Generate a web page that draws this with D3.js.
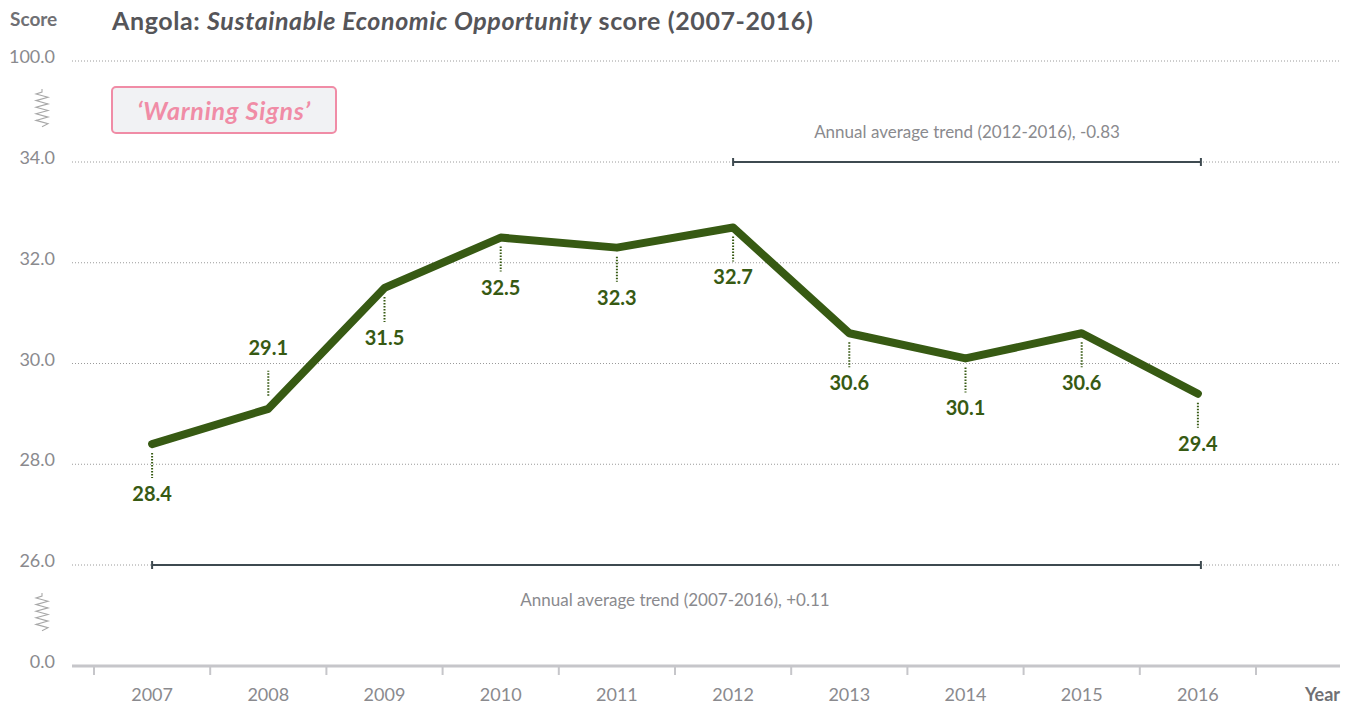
<!DOCTYPE html>
<html>
<head>
<meta charset="utf-8">
<script src="https://cdn.jsdelivr.net/npm/d3@7"></script>
<style>
  html, body { margin: 0; padding: 0; background: #fff; }
  svg { display: block; font-family: Lato, "Open Sans", sans-serif; }
</style>
</head>
<body>
<svg id="chart" width="1354" height="704"></svg>
<script>
// ---- data ----
const years = [2007, 2008, 2009, 2010, 2011, 2012, 2013, 2014, 2015, 2016];
const scores = [28.4, 29.1, 31.5, 32.5, 32.3, 32.7, 30.6, 30.1, 30.6, 29.4];
const labelAbove = [false, true, false, false, false, false, false, false, false, false];
const gridValues = [100, 34, 32, 30, 28, 26];
const tickLabels = ["100.0", "34.0", "32.0", "30.0", "28.0", "26.0", "0.0"];
const tickValues = [100, 34, 32, 30, 28, 26, 0];
const trends = [
  { from: 2012, to: 2016, value: 34, label: "Annual average trend (2012-2016), -0.83", labelPos: "above" },
  { from: 2007, to: 2016, value: 26, label: "Annual average trend (2007-2016), +0.11", labelPos: "below" }
];
const title = { country: "Angola: ", pillar: "Sustainable Economic Opportunity", rest: " score (2007-2016)" };
const badge = "\u2018Warning Signs\u2019";

// ---- layout ----
const svg = d3.select("#chart");
const lineGreen = "#375a13";
const greyText = "#8a8a8e";

const x = d3.scaleBand().domain(years).range([94, 1256]).padding(0);
const xc = d => x(d) + x.bandwidth() / 2;
// broken axis: piecewise linear scale
const y = d3.scaleLinear().domain([0, 26, 34, 100]).range([666, 565, 162, 61]);

// gridlines
svg.append("g").selectAll("line").data(gridValues).join("line")
  .attr("x1", 72).attr("x2", 1340)
  .attr("y1", d => y(d)).attr("y2", d => y(d))
  .attr("stroke", "#9a9a9a").attr("stroke-width", 1).attr("stroke-dasharray", "1,2");

// y tick labels
svg.append("g").selectAll("text").data(tickValues).join("text")
  .attr("x", 55).attr("y", d => y(d) + 2)
  .attr("text-anchor", "end").attr("font-size", 18).attr("fill", greyText)
  .text((d, i) => tickLabels[i]);

// axis break squiggles
function squiggle(yTop) {
  const pts = [[42, yTop], [42, yTop + 3], [36, yTop + 5]];
  let yy = yTop + 5, right = true;
  for (let i = 0; i < 9; i++) { yy += 3.3; pts.push([right ? 48 : 36, yy]); right = !right; }
  pts.push([42, yy + 3]);
  svg.append("path").attr("d", d3.line()(pts))
    .attr("fill", "none").attr("stroke", "#a8a8a8").attr("stroke-width", 1.1);
}
squiggle(89);
squiggle(593);

// x axis
svg.append("line").attr("x1", 72).attr("x2", 1340).attr("y1", 666).attr("y2", 666)
  .attr("stroke", "#c6c6ca").attr("stroke-width", 3);
const tickXs = years.map(d => x(d)).concat([x(years[years.length - 1]) + x.bandwidth()]);
svg.append("g").selectAll("line").data(tickXs).join("line")
  .attr("x1", d => d).attr("x2", d => d).attr("y1", 666).attr("y2", 675)
  .attr("stroke", "#c6c6ca").attr("stroke-width", 2);
svg.append("g").selectAll("text").data(years).join("text")
  .attr("x", d => xc(d)).attr("y", 701)
  .attr("text-anchor", "middle").attr("font-size", 18).attr("fill", greyText)
  .text(d => d);
svg.append("text").attr("x", 1340).attr("y", 701).attr("text-anchor", "end")
  .attr("font-size", 18).attr("font-weight", "bold").attr("fill", "#707074").text("Year");

// axis title and chart title
svg.append("text").attr("x", 10).attr("y", 26).attr("font-size", 19)
  .attr("font-weight", "bold").attr("fill", "#707074").text("Score");
const t = svg.append("text").attr("x", 112).attr("y", 30).attr("font-size", 25)
  .attr("letter-spacing", 0.6)
  .attr("font-weight", "bold").attr("fill", "#555559");
t.append("tspan").text(title.country);
t.append("tspan").attr("font-style", "italic").text(title.pillar);
t.append("tspan").text(title.rest);

// badge
svg.append("rect").attr("x", 112).attr("y", 87).attr("width", 224).attr("height", 46)
  .attr("rx", 4).attr("fill", "#f1f2f4").attr("stroke", "#f08ca6").attr("stroke-width", 2);
svg.append("text").attr("x", 224).attr("y", 120).attr("text-anchor", "middle")
  .attr("font-size", 25).attr("letter-spacing", 0.8).attr("font-weight", "bold").attr("font-style", "italic")
  .attr("fill", "#f08ca6").text(badge);

// trend lines
trends.forEach(tr => {
  const g = svg.append("g");
  const yy = y(tr.value);
  const x1 = xc(tr.from), x2 = xc(tr.to) + 3;
  g.append("line").attr("x1", x1).attr("x2", x2).attr("y1", yy).attr("y2", yy)
    .attr("stroke", "#3e4a50").attr("stroke-width", 2);
  [x1, x2].forEach(xx => g.append("line").attr("x1", xx).attr("x2", xx)
    .attr("y1", yy - 4).attr("y2", yy + 4).attr("stroke", "#3e4a50").attr("stroke-width", 2));
  g.append("text").attr("x", tr.labelPos === "below" ? 675 : (x1 + x2) / 2)
    .attr("y", tr.labelPos === "above" ? yy - 24 : yy + 41)
    .attr("text-anchor", "middle").attr("font-size", 17).attr("fill", greyText).text(tr.label);
});

// data line
const pts = years.map((d, i) => ({ year: d, v: scores[i], above: labelAbove[i] }));
svg.append("path").datum(pts)
  .attr("d", d3.line().x(d => xc(d.year)).y(d => y(d.v)))
  .attr("fill", "none").attr("stroke", lineGreen).attr("stroke-width", 8)
  .attr("stroke-linejoin", "round").attr("stroke-linecap", "round");

// connectors and labels
const lg = svg.append("g");
lg.selectAll("line").data(pts).join("line")
  .attr("x1", d => xc(d.year)).attr("x2", d => xc(d.year))
  .attr("y1", d => d.above ? y(d.v) - 13 : y(d.v) + 9)
  .attr("y2", d => d.above ? y(d.v) - 38 : y(d.v) + 34)
  .attr("stroke", lineGreen).attr("stroke-width", 2).attr("stroke-dasharray", "1.5,1.5");
lg.selectAll("text").data(pts).join("text")
  .attr("x", d => xc(d.year)).attr("y", d => d.above ? y(d.v) - 54 : y(d.v) + 57)
  .attr("text-anchor", "middle").attr("font-size", 20).attr("font-weight", "bold")
  .attr("fill", lineGreen).text(d => d.v.toFixed(1));
</script>
</body>
</html>
